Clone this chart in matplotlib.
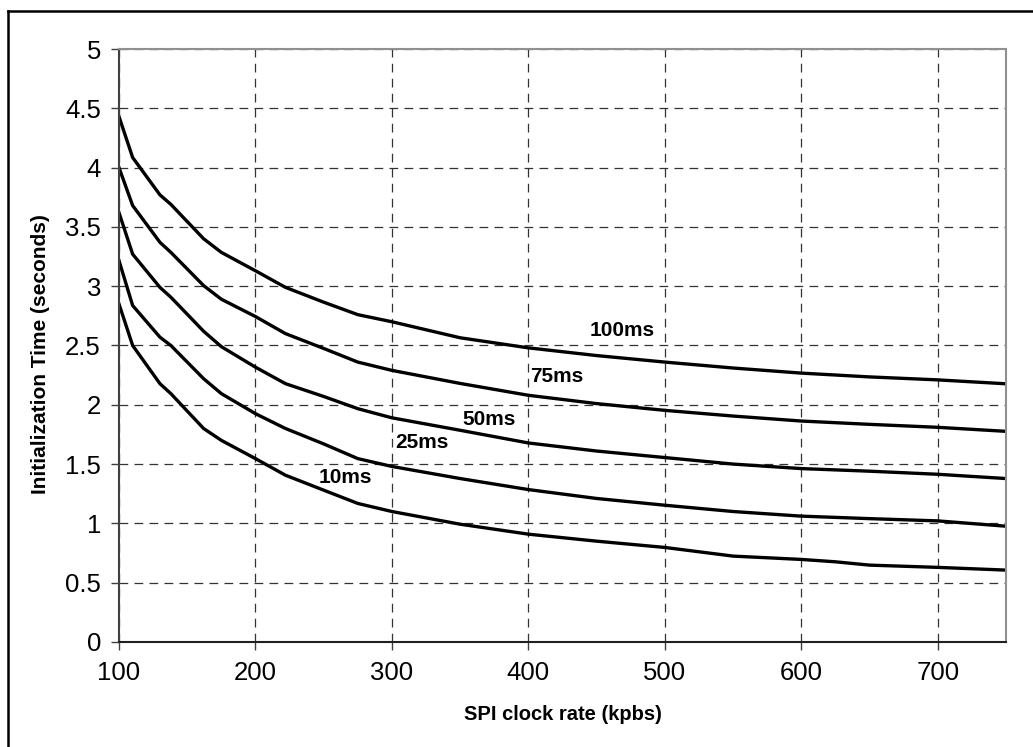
import matplotlib
matplotlib.use("Agg")
import matplotlib.pyplot as plt
from matplotlib.lines import Line2D

# SPI clock rate (kbps) sample points
rate = [100, 110, 130, 138, 162, 175, 200, 222, 250, 275, 300,
        350, 400, 450, 500, 550, 600, 650, 700, 750]
rate_10 = [100, 110, 130, 138, 162, 175, 200, 222, 250, 275, 300,
           350, 400, 450, 500, 550, 600, 625, 650, 700, 750]

# initialization time (seconds) per delay setting
t_100ms = [4.43, 4.085, 3.77, 3.69, 3.40, 3.285, 3.13, 2.99, 2.865, 2.76, 2.70,
           2.565, 2.48, 2.415, 2.36, 2.31, 2.267, 2.235, 2.21, 2.177]
t_75ms = [4.00, 3.68, 3.37, 3.285, 3.005, 2.89, 2.744, 2.60, 2.475, 2.36, 2.29,
          2.18, 2.08, 2.01, 1.953, 1.905, 1.863, 1.835, 1.81, 1.776]
t_50ms = [3.62, 3.27, 2.99, 2.907, 2.62, 2.49, 2.317, 2.178, 2.07, 1.967, 1.89,
          1.785, 1.678, 1.61, 1.555, 1.50, 1.462, 1.44, 1.414, 1.378]
t_25ms = [3.215, 2.837, 2.57, 2.50, 2.22, 2.094, 1.925, 1.80, 1.67, 1.546, 1.48,
          1.378, 1.285, 1.21, 1.153, 1.10, 1.061, 1.04, 1.021, 0.976]
t_10ms = [2.85, 2.50, 2.178, 2.094, 1.80, 1.70, 1.546, 1.406, 1.28, 1.168, 1.10,
          0.993, 0.909, 0.85, 0.797, 0.724, 0.696, 0.676, 0.648, 0.629, 0.606]

labels = ["100ms", "75ms", "50ms", "25ms", "10ms"]
label_pos = [(469, 2.63), (421, 2.24), (371, 1.877), (322, 1.678), (266, 1.386)]

xticks = [100, 200, 300, 400, 500, 600, 700]
yticks = [0, 0.5, 1, 1.5, 2, 2.5, 3, 3.5, 4, 4.5, 5]
ytick_labels = ["0", "0.5", "1", "1.5", "2", "2.5", "3", "3.5", "4", "4.5", "5"]

plt.rcParams["font.family"] = ["Liberation Sans", "DejaVu Sans"]

fig = plt.figure(figsize=(10.33, 7.47), dpi=100)
ax = fig.add_axes([0.1152, 0.1406, 0.8587, 0.7938])

for ys in (t_100ms, t_75ms, t_50ms, t_25ms):
    ax.plot(rate, ys, color="black", lw=2.4, solid_joinstyle="miter")
ax.plot(rate_10, t_10ms, color="black", lw=2.4, solid_joinstyle="miter")

for txt, (lx, ly) in zip(labels, label_pos):
    ax.text(lx, ly, txt, ha="center", va="center", fontsize=15, fontweight="bold")

ax.set_xlim(100, 750)
ax.set_ylim(0, 5)
ax.set_xticks(xticks)
ax.set_yticks(yticks)
ax.set_yticklabels(ytick_labels)
ax.tick_params(axis="both", labelsize=18.5, direction="out", length=6, width=1, color="#404040")
ax.tick_params(axis="x", pad=8)
ax.tick_params(axis="y", pad=7)

ax.grid(True, color="#333333", lw=0.9, linestyle=(0, (7, 5)))
ax.set_axisbelow(True)

for side in ("top", "right"):
    ax.spines[side].set_color("#909090")
    ax.spines[side].set_linewidth(1.5)
ax.spines["left"].set_color("#404040")
ax.spines["left"].set_linewidth(1.5)
ax.spines["bottom"].set_color("#202020")
ax.spines["bottom"].set_linewidth(1.5)

ax.set_xlabel("SPI clock rate (kpbs)", fontsize=14.5, fontweight="bold", labelpad=14)
ax.set_ylabel("Initialization Time (seconds)", fontsize=15, fontweight="bold", labelpad=8)
ax.yaxis.set_label_coords(-0.078, 0.485)

# outer chart frame (only left and top edges are in view)
fig.add_artist(Line2D([8 / 1033, 8 / 1033], [0, 1 - 11 / 747], transform=fig.transFigure,
                      color="black", lw=1.8))
fig.add_artist(Line2D([8 / 1033, 1], [1 - 11 / 747, 1 - 11 / 747], transform=fig.transFigure,
                      color="black", lw=1.8))

fig.savefig("out.png", dpi=100, facecolor="white")
